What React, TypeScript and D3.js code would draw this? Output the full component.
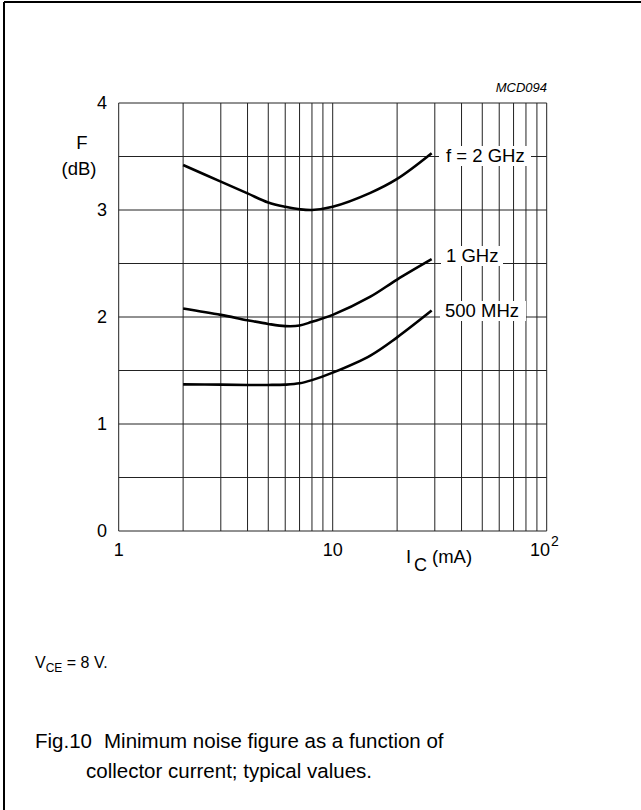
import React from "react";
import * as d3 from "d3";

const current = [2, 3, 4, 5, 6, 7, 8, 10, 15, 20, 29];
const f2GHz = [3.42, 3.265, 3.155, 3.07, 3.03, 3.007, 3.0, 3.03, 3.16, 3.29, 3.53];
const f1GHz = [2.08, 2.02, 1.97, 1.935, 1.915, 1.92, 1.955, 2.02, 2.19, 2.35, 2.54];
const f500MHz = [1.37, 1.368, 1.365, 1.365, 1.368, 1.38, 1.41, 1.48, 1.64, 1.81, 2.06];
const seriesLabels = ["f = 2 GHz", "1 GHz", "500 MHz"];
const yTicks = [0, 1, 2, 3, 4];
const yGrid = [0, 0.5, 1, 1.5, 2, 2.5, 3, 3.5, 4];
const xGrid = [1, 2, 3, 4, 5, 6, 7, 8, 9, 10, 20, 30, 40, 50, 60, 70, 80, 90, 100];

const FONT = "'Liberation Sans', Arial, Helvetica, sans-serif";

export default function App() {
  const x = d3.scaleLog().domain([1, 100]).range([118.7, 546.7]);
  const y = d3.scaleLinear().domain([0, 4]).range([531, 103]);
  const line = d3
    .line<[number, number]>()
    .x((d) => x(d[0]))
    .y((d) => y(d[1]))
    .curve(d3.curveCatmullRom.alpha(0.5));
  const series = [f2GHz, f1GHz, f500MHz];
  const labelPos = [
    { lx: 446, ly: 162, rx: 439, rw: 92 },
    { lx: 446, ly: 262, rx: 441, rw: 62 },
    { lx: 445, ly: 317, rx: 440, rw: 86 },
  ];
  return (
    <svg
      width={641}
      height={810}
      style={{ position: "absolute", left: 0, top: 0, background: "#fff" }}
      fontFamily={FONT}
    >
      <rect x={0} y={0} width={641} height={810} fill="#fff" />
      {/* frame */}
      <line x1={4} y1={2} x2={641} y2={2} stroke="#000" strokeWidth={2} />
      <line x1={4} y1={2} x2={4} y2={810} stroke="#000" strokeWidth={2} />

      {/* grid */}
      {yGrid.map((v) => (
        <line
          key={"h" + v}
          x1={x(1)}
          x2={x(100)}
          y1={y(v)}
          y2={y(v)}
          stroke="#222"
          strokeWidth={1}
        />
      ))}
      {xGrid.map((v) => (
        <line
          key={"v" + v}
          x1={x(v)}
          x2={x(v)}
          y1={y(0)}
          y2={y(4)}
          stroke="#222"
          strokeWidth={1}
        />
      ))}

      {/* series labels with white background */}
      {seriesLabels.map((t, i) => (
        <g key={t}>
          <rect
            x={labelPos[i].rx}
            y={labelPos[i].ly - 16}
            width={labelPos[i].rw}
            height={20}
            fill="#fff"
          />
          <text x={labelPos[i].lx} y={labelPos[i].ly} fontSize={18.5} fill="#000">
            {t}
          </text>
        </g>
      ))}

      {/* curves */}
      {series.map((s, i) => (
        <path
          key={i}
          d={line(current.map((c, j) => [c, s[j]] as [number, number])) || ""}
          fill="none"
          stroke="#000"
          strokeWidth={2.6}
        />
      ))}

      {/* y ticks */}
      {yTicks.map((v) => (
        <text
          key={"yt" + v}
          x={107}
          y={y(v) + 6}
          textAnchor="end"
          fontSize={18}
        >
          {v}
        </text>
      ))}
      <text x={82} y={149} textAnchor="middle" fontSize={18.5}>
        F
      </text>
      <text x={79} y={175} textAnchor="middle" fontSize={18.5}>
        (dB)
      </text>

      {/* x ticks */}
      <text x={x(1)} y={556} textAnchor="middle" fontSize={18}>
        1
      </text>
      <text x={x(10)} y={556} textAnchor="middle" fontSize={18}>
        10
      </text>
      <text x={530} y={556} fontSize={18}>
        10
      </text>
      <text x={551} y={546} fontSize={14}>
        2
      </text>
      <text x={406} y={563} fontSize={18.5}>
        I
      </text>
      <text x={414} y={571} fontSize={18}>
        C
      </text>
      <text x={432} y={563} fontSize={18.5}>
        (mA)
      </text>

      <text x={547} y={92} textAnchor="end" fontSize={13} fontStyle="italic">
        MCD094
      </text>

      {/* conditions */}
      <text x={35} y={668} fontSize={16}>
        V
        <tspan fontSize={12} dy={4}>
          CE
        </tspan>
        <tspan dy={-4}> = 8 V.</tspan>
      </text>

      {/* caption */}
      <text x={35} y={748} fontSize={20.5}>
        Fig.10
      </text>
      <text x={104} y={748} fontSize={20.5}>
        Minimum noise figure as a function of
      </text>
      <text x={86} y={778} fontSize={20.5}>
        collector current; typical values.
      </text>
    </svg>
  );
}
